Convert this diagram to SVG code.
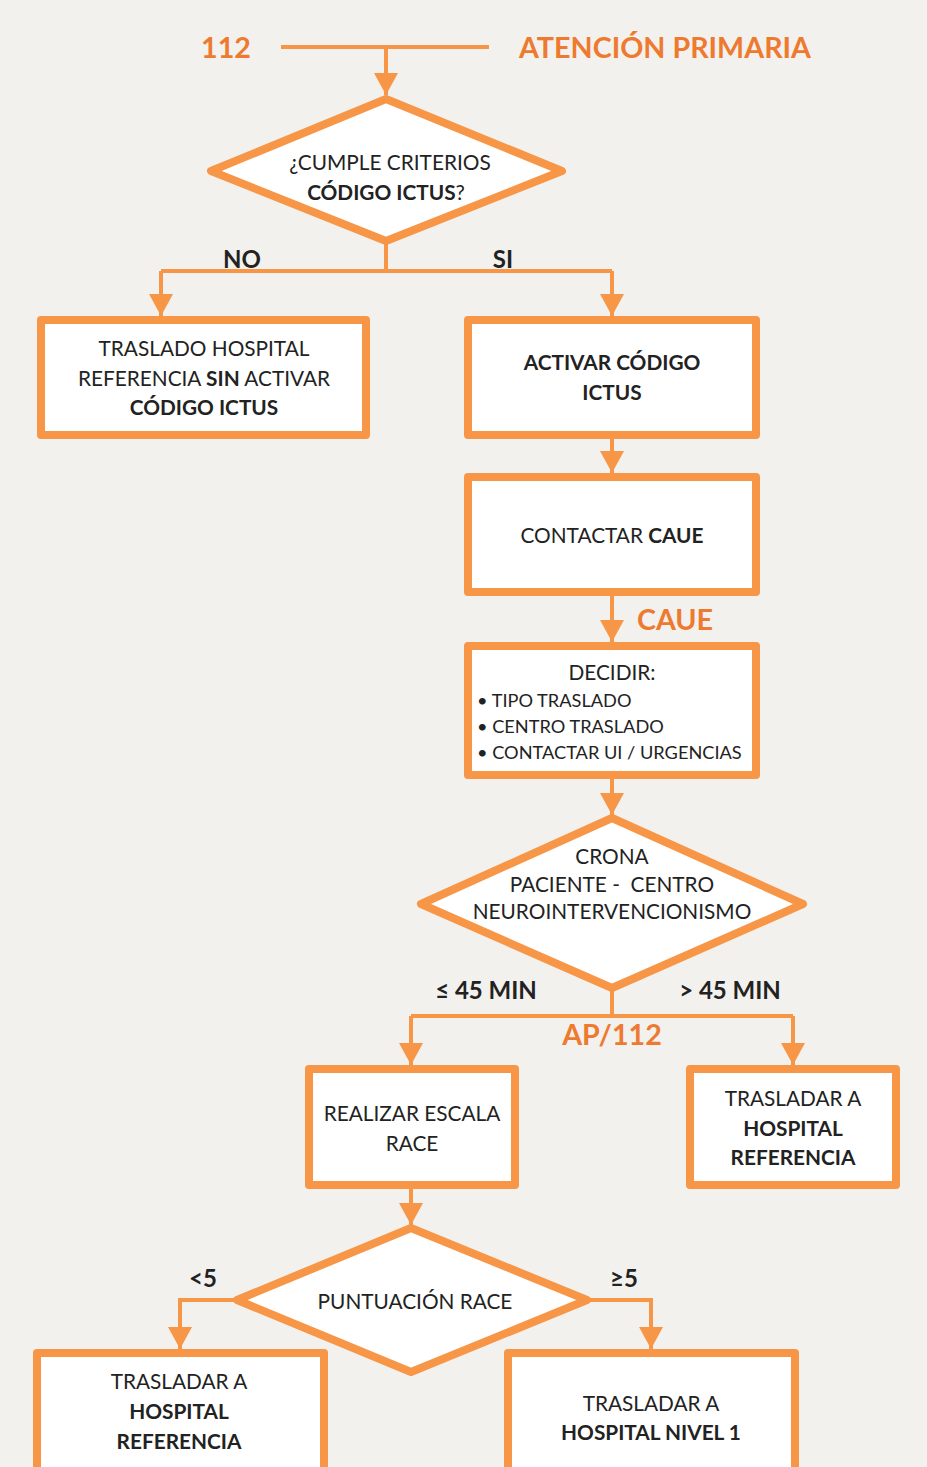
<svg xmlns="http://www.w3.org/2000/svg" width="927" height="1467" viewBox="0 0 927 1467">
<defs>
<style>
.node{fill:#fff;stroke:#F79646;stroke-width:8;stroke-linejoin:round}
.c{fill:none;stroke:#F79646;stroke-width:4}
.t{font-family:Lato,"Open Sans","Liberation Sans",sans-serif;font-size:20.8px;fill:#222;text-anchor:middle}
.bl{font-family:Lato,"Open Sans","Liberation Sans",sans-serif;font-size:18.2px;fill:#222;text-anchor:start}
.b{font-weight:bold}
.lbl{font-family:Lato,"Open Sans","Liberation Sans",sans-serif;font-size:24px;font-weight:bold;fill:#222;text-anchor:middle}
.o{font-family:Lato,"Open Sans","Liberation Sans",sans-serif;font-size:28.7px;font-weight:bold;fill:#EE7A30;text-anchor:middle}
</style>
<marker id="ah" markerUnits="userSpaceOnUse" markerWidth="24" markerHeight="24" refX="22" refY="12" orient="auto">
<path d="M0,0 L22,12 L0,24 z" fill="#F79646"/>
</marker>
</defs>
<rect width="927" height="1467" fill="#F2F1EE"/>

<g id="header">
<text class="o" x="226" y="58">112</text>
<text class="o" x="665" y="58">ATENCIÓN PRIMARIA</text>
</g>

<g id="connectors">
<path class="c" d="M281,47 H489"/>
<path class="c" d="M386,47 V95" marker-end="url(#ah)"/>
<path class="c" d="M386,243 V271 M161,271 H612"/>
<path class="c" d="M161,271 V316" marker-end="url(#ah)"/>
<path class="c" d="M612,271 V316" marker-end="url(#ah)"/>
<path class="c" d="M612,439 V473" marker-end="url(#ah)"/>
<path class="c" d="M612,596 V642" marker-end="url(#ah)"/>
<path class="c" d="M612,779 V815" marker-end="url(#ah)"/>
<path class="c" d="M612,990 V1016 M411,1016 H793"/>
<path class="c" d="M411,1016 V1065" marker-end="url(#ah)"/>
<path class="c" d="M793,1016 V1065" marker-end="url(#ah)"/>
<path class="c" d="M411,1189 V1225" marker-end="url(#ah)"/>
<path class="c" d="M234,1300 H180 V1349" marker-end="url(#ah)"/>
<path class="c" d="M590,1300 H651 V1349" marker-end="url(#ah)"/>
<text class="lbl" x="242" y="268">NO</text>
<text class="lbl" x="503" y="268">SI</text>
<text class="o" x="675" y="630">CAUE</text>
<text class="lbl" x="486" y="999" font-size="25.5">≤ 45 MIN</text>
<text class="lbl" x="730" y="999" font-size="25.5">&gt; 45 MIN</text>
<text class="o" x="612" y="1045">AP/112</text>
<text class="lbl" x="203" y="1287" font-size="26">&lt;5</text>
<text class="lbl" x="624" y="1287" font-size="26">≥5</text>
</g>

<g id="criterios">
<polygon class="node" points="386,99 211,171 386,241 562,171"/>
<text class="t" x="390" y="170">¿CUMPLE CRITERIOS</text>
<text class="t" x="386" y="200"><tspan class="b">CÓDIGO ICTUS</tspan>?</text>
</g>

<g id="traslado-sin">
<rect class="node" x="41" y="320" width="325" height="115"/>
<text class="t" x="204" y="356">TRASLADO HOSPITAL</text>
<text class="t" x="204" y="386">REFERENCIA <tspan class="b">SIN</tspan> ACTIVAR</text>
<text class="t b" x="204" y="415">CÓDIGO ICTUS</text>
</g>

<g id="activar">
<rect class="node" x="468" y="320" width="288" height="115"/>
<text class="t b" x="612" y="370">ACTIVAR CÓDIGO</text>
<text class="t b" x="612" y="400">ICTUS</text>
</g>

<g id="contactar">
<rect class="node" x="468" y="477" width="288" height="115"/>
<text class="t" x="612" y="543">CONTACTAR <tspan class="b">CAUE</tspan></text>
</g>

<g id="decidir">
<rect class="node" x="468" y="646" width="288" height="129"/>
<text class="t" x="612" y="680">DECIDIR:</text>
<text class="bl" x="477" y="707">• TIPO TRASLADO</text>
<text class="bl" x="477" y="733">• CENTRO TRASLADO</text>
<text class="bl" x="477" y="759">• CONTACTAR UI / URGENCIAS</text>
</g>

<g id="crona">
<polygon class="node" points="612,818 421,904 612,988 803,904"/>
<text class="t" x="612" y="864">CRONA</text>
<text class="t" x="612" y="892" xml:space="preserve">PACIENTE -  CENTRO</text>
<text class="t" x="612" y="919">NEUROINTERVENCIONISMO</text>
</g>

<g id="escala-race">
<rect class="node" x="309" y="1069" width="206" height="116"/>
<text class="t" x="412" y="1121">REALIZAR ESCALA</text>
<text class="t" x="412" y="1151">RACE</text>
</g>

<g id="hospital-ref-1">
<rect class="node" x="690" y="1069" width="206" height="116"/>
<text class="t" x="793" y="1106">TRASLADAR A</text>
<text class="t b" x="793" y="1136">HOSPITAL</text>
<text class="t b" x="793" y="1165">REFERENCIA</text>
</g>

<g id="puntuacion">
<polygon class="node" points="411,1228 237,1300 411,1372 587,1300"/>
<text class="t" x="415" y="1309">PUNTUACIÓN RACE</text>
</g>

<g id="hospital-ref-2">
<rect class="node" x="37" y="1353" width="287" height="130"/>
<text class="t" x="179" y="1389">TRASLADAR A</text>
<text class="t b" x="179" y="1419">HOSPITAL</text>
<text class="t b" x="179" y="1449">REFERENCIA</text>
</g>

<g id="hospital-nivel1">
<rect class="node" x="508" y="1353" width="287" height="130"/>
<text class="t" x="651" y="1411">TRASLADAR A</text>
<text class="t b" x="651" y="1440">HOSPITAL NIVEL 1</text>
</g>
</svg>
